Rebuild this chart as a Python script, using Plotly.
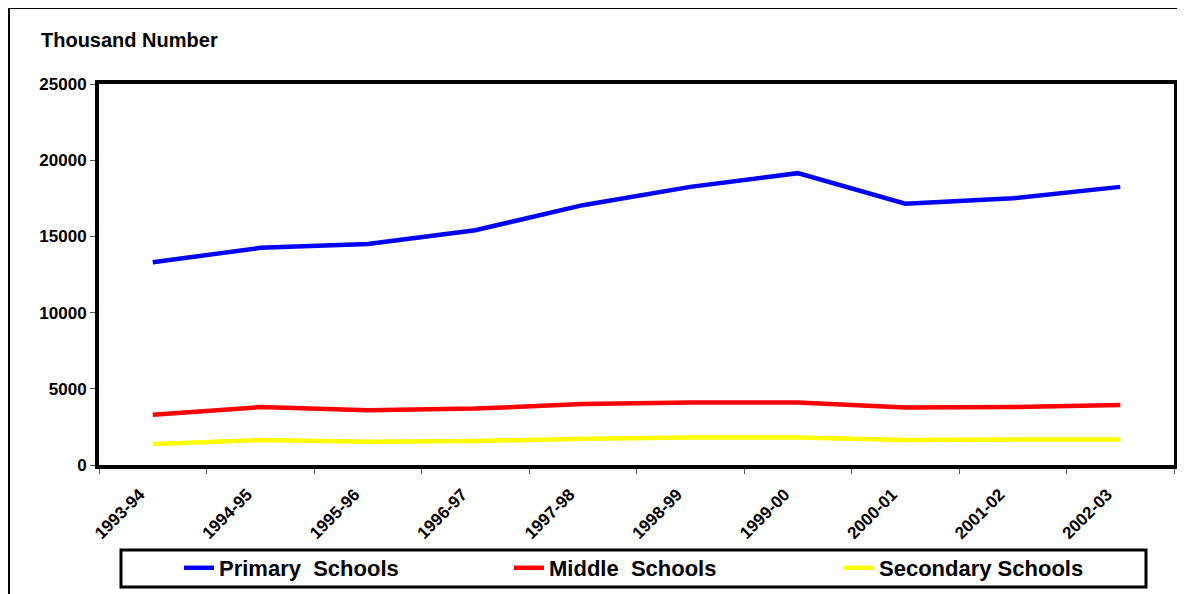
import plotly.graph_objects as go

years = ["1993-94", "1994-95", "1995-96", "1996-97", "1997-98",
         "1998-99", "1999-00", "2000-01", "2001-02", "2002-03"]
primary = [13300, 14250, 14500, 15400, 17050, 18250, 19150, 17150, 17500, 18250]
middle = [3300, 3800, 3600, 3700, 4000, 4100, 4100, 3780, 3800, 3930]
secondary = [1370, 1640, 1530, 1570, 1720, 1800, 1800, 1640, 1680, 1680]

series_names = ["Primary\u00a0 Schools", "Middle\u00a0 Schools", "Secondary Schools"]
series_values = [primary, middle, secondary]
series_colors = ["#0000FF", "#FF0000", "#FFFF00"]

FONT = "Liberation Sans, Arial, sans-serif"
OFF = 8  # page body margin offset
W, H = 1185 - OFF, 594 - OFF
# reference screen coordinates of the plot area
SL, SR, ST, SB = 99, 1174, 84, 465
L, T = SL - OFF, ST - OFF
R, B = W - (SR - OFF), H - (SB - OFF)
PW, PH = W - L - R, H - T - B

def px_x(p):
    return (p - OFF - L) / PW

def px_y(p):
    return (H - B - (p - OFF)) / PH

fig = go.Figure()
for name, vals, col in zip(series_names, series_values, series_colors):
    fig.add_trace(go.Scatter(x=years, y=vals, mode="lines", name=name,
                             line=dict(color=col, width=4.5)))

fig.update_layout(
    width=W, height=H,
    margin=dict(l=L, r=R, t=T, b=B, pad=0, autoexpand=False),
    paper_bgcolor="white", plot_bgcolor="white",
    font=dict(family=FONT, color="black", size=17, weight="bold"),
    showlegend=True,
    legend=dict(orientation="h", x=px_x(179), xanchor="left",
                y=px_y(568), yanchor="middle",
                font=dict(family=FONT, size=22, weight="bold", color="black"),
                entrywidth=285, entrywidthmode="pixels",
                bgcolor="rgba(0,0,0,0)", borderwidth=0,
                itemwidth=30),
    xaxis=dict(type="category", range=[-0.5, 9.5], tickson="boundaries",
               ticks="outside", ticklen=5, tickcolor="#555555", tickwidth=1,
               tickangle=-45, showgrid=False, zeroline=False,
               showline=True, linecolor="black", linewidth=4, mirror=True,
               ticklabelstandoff=9, ticklabelshift=-13,
               tickfont=dict(family=FONT, size=17, weight="bold")),
    yaxis=dict(range=[0, 25000], dtick=5000, tickformat="d",
               ticks="outside", ticklen=5,
               tickcolor="#555555", tickwidth=1, showgrid=False, zeroline=False,
               showline=True, linecolor="black", linewidth=4, mirror=True,
               tickfont=dict(family=FONT, size=17, weight="bold")),
    annotations=[dict(text="Thousand Number", xref="paper", yref="paper",
                      x=px_x(39), y=px_y(40), xanchor="left", yanchor="middle",
                      showarrow=False,
                      font=dict(family=FONT, size=20, weight="bold"))],
    shapes=[
        # outer frame (left and top edges)
        dict(type="line", xref="paper", yref="paper",
             x0=px_x(9), x1=px_x(9), y0=px_y(600), y1=px_y(8),
             line=dict(color="black", width=2)),
        dict(type="line", xref="paper", yref="paper",
             x0=px_x(8), x1=px_x(1190), y0=px_y(8), y1=px_y(8),
             line=dict(color="black", width=2)),
        # legend box
        dict(type="rect", xref="paper", yref="paper",
             x0=px_x(121), x1=px_x(1146), y0=px_y(587), y1=px_y(550),
             line=dict(color="black", width=3)),
    ],
)

fig.write_html("out.html")
